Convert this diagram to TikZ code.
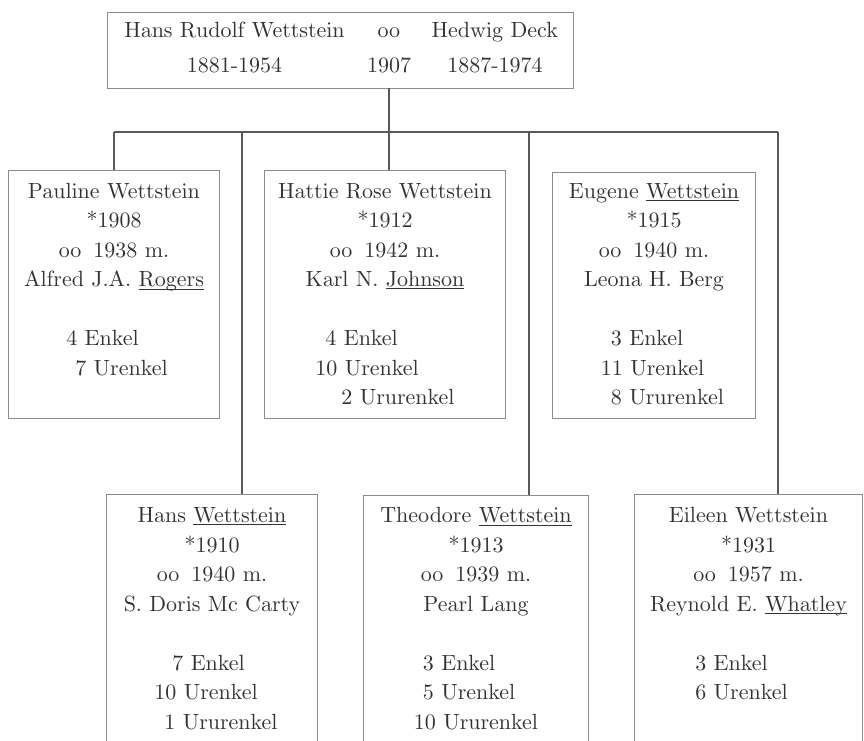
\documentclass[tikz,border=0pt]{standalone}
\usepackage{xcolor}
\usepackage{tikz}

\DeclareFontFamily{OT1}{cmzehn}{\hyphenchar\font=-1}
\DeclareFontShape{OT1}{cmzehn}{m}{n}{<-> cmr10}{}

\newcommand{\unterstr}[1]{\setbox0\hbox{#1}\rlap{\rule[-2.5pt]{\wd0}{0.8pt}}\box0}
\newcommand{\boxtext}[4]{\begin{minipage}[t][#2][t]{#1}\centering\vspace*{#3}#4\end{minipage}}

\tikzset{
  famnode/.style={draw=black!45, line width=1.1pt, inner sep=0pt, anchor=north west, text=black!80,
                  font=\fontencoding{OT1}\fontfamily{cmzehn}\fontsize{22}{29.5}\selectfont},
  stamm/.style={draw=black!65, line width=1.3pt}
}

\begin{document}
\begin{tikzpicture}[x=1pt,y=-1pt]
            \useasboundingbox (0,0) rectangle (864,740);
            \clip (0,0) rectangle (864,740);

            %%% COORDINATES %%%
            \draw (389,88) coordinate (trau);
            \draw (114,132) coordinate (balkenL);
            \draw (778,132) coordinate (balkenR);
            \draw (242,132) coordinate (ast2);
            \draw (529,132) coordinate (ast5);

            %%% PARENTS %%%
            \node[famnode] (eltern) at (107,12) {\boxtext{466pt}{76pt}{9.5pt}{%
              \makebox[231pt]{Hans Rudolf Wettstein}\makebox[78pt]{oo}\makebox[134pt]{Hedwig Deck}\\[5.5pt]
              \makebox[231pt]{1881-1954}\makebox[78pt]{1907}\makebox[134pt]{1887-1974}}};

            %%% CHILDREN, ROW 1 %%%
            \node[famnode] (pauline) at (8,170) {\boxtext{211pt}{248pt}{12.5pt}{%
              Pauline Wettstein\\ {*}1908\\ oo\hspace{12pt}1938 m.\\ Alfred J.A. \unterstr{Rogers}\\[29.5pt]
              \hspace*{6pt}\begin{tabular}[t]{@{}l@{}}4 Enkel\\ \hspace*{9pt}7 Urenkel\end{tabular}}};
            \node[famnode] (hattie) at (264,170) {\boxtext{241pt}{248pt}{12.5pt}{%
              Hattie Rose Wettstein\\ {*}1912\\ oo\hspace{12pt}1942 m.\\ Karl N. \unterstr{Johnson}\\[29.5pt]
              \begin{tabular}[t]{@{}l@{}}\hspace*{10pt}4 Enkel\\ 10 Urenkel\\ \hspace*{26pt}2 Ururenkel\end{tabular}}};
            \node[famnode] (eugene) at (552,172) {\boxtext{203pt}{246pt}{10.5pt}{%
              Eugene \unterstr{Wettstein}\\ {*}1915\\ oo\hspace{12pt}1940 m.\\ Leona H. Berg\\[29.5pt]
              \hspace*{17pt}\begin{tabular}[t]{@{}l@{}}\hspace*{10pt}3 Enkel\\ 11 Urenkel\\ \hspace*{10pt}8 Ururenkel\end{tabular}}};

            %%% CHILDREN, ROW 2 %%%
            \node[famnode] (hans) at (106,494) {\boxtext{211pt}{280pt}{13pt}{%
              Hans \unterstr{Wettstein}\\ {*}1910\\ oo\hspace{12pt}1940 m.\\ S. Doris Mc Carty\\[29.5pt]
              \hspace*{8pt}\begin{tabular}[t]{@{}l@{}}\hspace*{18pt}7 Enkel\\ 10 Urenkel\\ \hspace*{10pt}1 Ururenkel\end{tabular}}};
            \node[famnode] (theodore) at (363,495) {\boxtext{225pt}{280pt}{12pt}{%
              Theodore \unterstr{Wettstein}\\ {*}1913\\ oo\hspace{12pt}1939 m.\\ Pearl Lang\\[29.5pt]
              \begin{tabular}[t]{@{}l@{}}\hspace*{9pt}3 Enkel\\ \hspace*{9pt}5 Urenkel\\ 10 Ururenkel\end{tabular}}};
            \node[famnode] (eileen) at (634,494) {\boxtext{228pt}{280pt}{13pt}{%
              Eileen Wettstein\\ {*}1931\\ oo\hspace{12pt}1957 m.\\ Reynold E. \unterstr{Whatley}\\[29.5pt]
              \hspace*{-14pt}\begin{tabular}[t]{@{}l@{}}3 Enkel\\ 6 Urenkel\end{tabular}}};

            %%% LINES %%%
            \draw[stamm] (trau) -- (trau |- hattie.north);
            \draw[stamm] (balkenL) -- (balkenR);
            \draw[stamm] (balkenL) -- (balkenL |- pauline.north);
            \draw[stamm] (ast2) -- (ast2 |- hans.north);
            \draw[stamm] (ast5) -- (ast5 |- theodore.north);
            \draw[stamm] (balkenR) -- (balkenR |- eileen.north);
\end{tikzpicture}
\end{document}
